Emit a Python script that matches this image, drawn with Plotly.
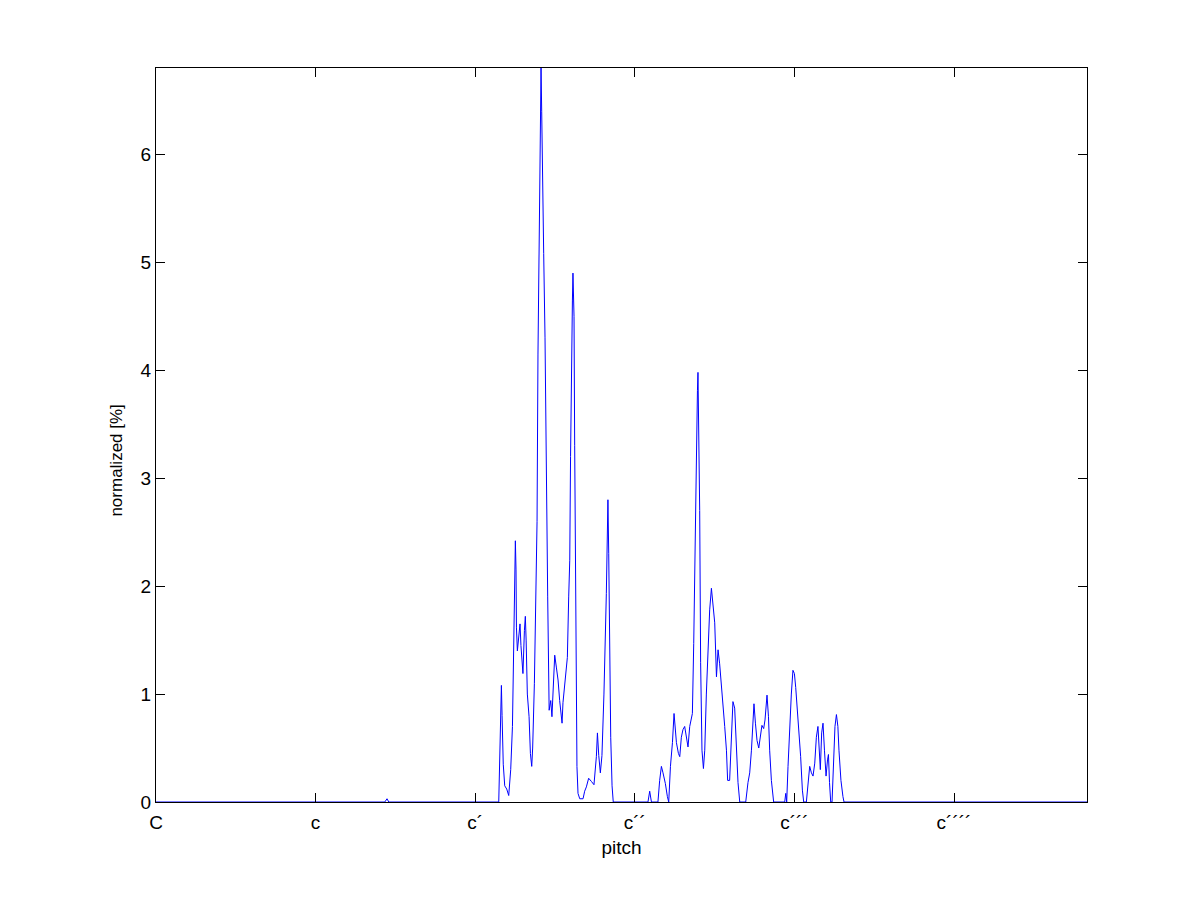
import plotly.graph_objects as go

# pitch in semitones above C (C = 0), normalized occurrence in percent
pitch = [
    0.0, 17.2, 17.37, 17.5,
    25.77, 25.84, 25.97, 26.02, 26.11, 26.22, 26.37, 26.52, 26.67, 26.80, 26.89,
    26.97, 27.02, 27.07, 27.10, 27.17, 27.27, 27.37, 27.44, 27.52, 27.59, 27.70,
    27.77, 27.83, 27.92, 28.05, 28.15, 28.25, 28.32, 28.45, 28.55, 28.65, 28.72,
    28.80, 28.85, 28.90, 28.95, 29.00, 29.05, 29.15, 29.25, 29.34, 29.45, 29.56,
    29.68, 29.77, 29.86, 29.98, 30.10, 30.23, 30.35, 30.45, 30.53, 30.60, 30.73,
    30.84, 30.93, 31.03, 31.11, 31.17, 31.23, 31.31, 31.35, 31.43, 31.48, 31.53,
    31.60, 31.65, 31.73, 31.86, 32.11, 32.23, 32.36, 32.53, 32.74, 32.93, 33.11,
    33.19, 33.29, 33.41, 33.53, 33.68, 33.86, 33.94, 33.98, 34.04, 34.11, 34.19,
    34.29, 34.38,
    36.99, 37.12, 37.25, 37.74, 37.87, 38.00, 38.12, 38.30, 38.45, 38.55, 38.68,
    38.83, 38.95, 39.02, 39.13, 39.28, 39.38, 39.50, 39.62, 39.75, 39.88, 40.00,
    40.13, 40.26, 40.33, 40.43, 40.53, 40.63, 40.71, 40.75, 40.80, 40.88, 40.95,
    41.05, 41.16, 41.26, 41.38, 41.50, 41.63, 41.76, 41.88, 42.01, 42.14, 42.26,
    42.38, 42.51, 42.63, 42.76, 42.89, 42.98, 43.13, 43.26, 43.38, 43.51, 43.64,
    43.76, 43.89, 44.34, 44.51, 44.64, 44.77, 44.89, 44.96, 45.07, 45.19, 45.32,
    45.44, 45.56, 45.69, 45.79, 45.94, 46.05, 46.14, 46.27, 46.44,
    47.27, 47.35, 47.42, 47.52, 47.65, 47.77, 47.89, 48.00, 48.10, 48.23, 48.35,
    48.47, 48.60, 48.70, 48.90, 49.02, 49.15, 49.28, 49.40, 49.53, 49.65, 49.77,
    49.88, 49.95, 50.05, 50.15, 50.26, 50.38, 50.49, 50.56, 50.64, 50.73, 50.83,
    50.95, 51.05, 51.16, 51.27, 51.35, 51.50, 51.65, 51.73,
    70.0,
]
normalized = [
    0.0, 0.0, 0.03, 0.0,
    0.0, 0.5, 1.08, 0.8, 0.35, 0.15, 0.12, 0.06, 0.3, 0.7, 1.38,
    2.08, 2.42, 2.15, 1.62, 1.4, 1.56, 1.65, 1.45, 1.25, 1.19, 1.59,
    1.72, 1.5, 1.0, 0.79, 0.45, 0.33, 0.5, 1.1, 2.05, 2.6, 4.15,
    5.2, 6.2, 6.6, 6.8, 6.4, 5.76, 5.08, 4.3, 3.0, 1.9, 0.85,
    0.94, 0.79, 1.1, 1.36, 1.25, 1.13, 0.94, 0.8, 0.73, 0.92, 1.1,
    1.25, 1.34, 1.9, 2.24, 3.2, 4.15, 4.65, 4.9, 4.5, 3.3, 2.2,
    1.2, 0.33, 0.08, 0.03, 0.03, 0.1, 0.14, 0.22, 0.19, 0.16, 0.42,
    0.64, 0.43, 0.27, 0.43, 1.0, 1.93, 2.5, 2.8, 2.3, 1.5, 0.6,
    0.15, 0.0,
    0.0, 0.1, 0.0, 0.0, 0.2, 0.33, 0.27, 0.17, 0.05, 0.0, 0.33,
    0.55, 0.82, 0.73, 0.55, 0.45, 0.42, 0.6, 0.67, 0.7, 0.6, 0.51,
    0.7, 0.79, 0.82, 1.47, 2.45, 3.44, 3.81, 3.98, 3.54, 2.7, 1.29,
    0.48, 0.31, 0.48, 1.0, 1.41, 1.78, 1.98, 1.84, 1.66, 1.16, 1.41,
    1.28, 1.1, 0.94, 0.7, 0.48, 0.2, 0.2, 0.64, 0.93, 0.87, 0.55,
    0.18, 0.0, 0.0, 0.18, 0.27, 0.48, 0.73, 0.91, 0.73, 0.57, 0.5,
    0.6, 0.71, 0.68, 0.76, 0.99, 0.79, 0.48, 0.2, 0.0,
    0.0, 0.08, 0.0, 0.33, 0.76, 1.0, 1.22, 1.19, 1.06, 0.85, 0.63,
    0.42, 0.11, 0.0, 0.0, 0.18, 0.33, 0.27, 0.24, 0.36, 0.6, 0.7,
    0.45, 0.3, 0.64, 0.73, 0.48, 0.24, 0.39, 0.44, 0.18, 0.0, 0.0,
    0.48, 0.7, 0.81, 0.7, 0.48, 0.2, 0.05, 0.0,
    0.0,
]

tick_vals = [0, 12, 24, 36, 48, 60]
tick_text = ["C", "c", "c\u00b4", "c\u00b4\u00b4", "c\u00b4\u00b4\u00b4", "c\u00b4\u00b4\u00b4\u00b4"]
y_ticks = [0, 1, 2, 3, 4, 5, 6]

FONT = "Liberation Sans, Arial, sans-serif"

fig = go.Figure()
fig.add_trace(go.Scatter(
    x=pitch, y=normalized, mode="lines",
    line=dict(color="#0000ff", width=1),
    hoverinfo="skip", showlegend=False,
))

axis_common = dict(
    showline=True, linecolor="black", linewidth=1, mirror="ticks",
    ticks="inside", ticklen=9, tickcolor="black", tickwidth=1,
    showgrid=False, zeroline=False,
    tickfont=dict(family=FONT, size=19, color="black"),
)

fig.update_layout(
    width=1201, height=901,
    margin=dict(l=156, r=114, t=68, b=99),
    paper_bgcolor="white", plot_bgcolor="white",
    font=dict(family=FONT, size=19, color="black"),
    xaxis=dict(
        range=[0, 70], tickvals=tick_vals, ticktext=tick_text,
        ticklabelstandoff=3,
        title=dict(text="pitch", font=dict(family=FONT, size=19), standoff=8),
        **axis_common,
    ),
    yaxis=dict(
        range=[0, 6.8], tickvals=y_ticks,
        **axis_common,
    ),
    annotations=[dict(
        text="normalized [%]", textangle=-90,
        xref="paper", yref="paper", x=-0.042, y=0.465,
        xanchor="center", yanchor="middle", showarrow=False,
        font=dict(family=FONT, size=17, color="black"),
    )],
)

fig.write_html(
    "out.html",
    config={"displayModeBar": False},
    post_script="document.body.style.margin='0';document.body.style.overflow='hidden';",
)
